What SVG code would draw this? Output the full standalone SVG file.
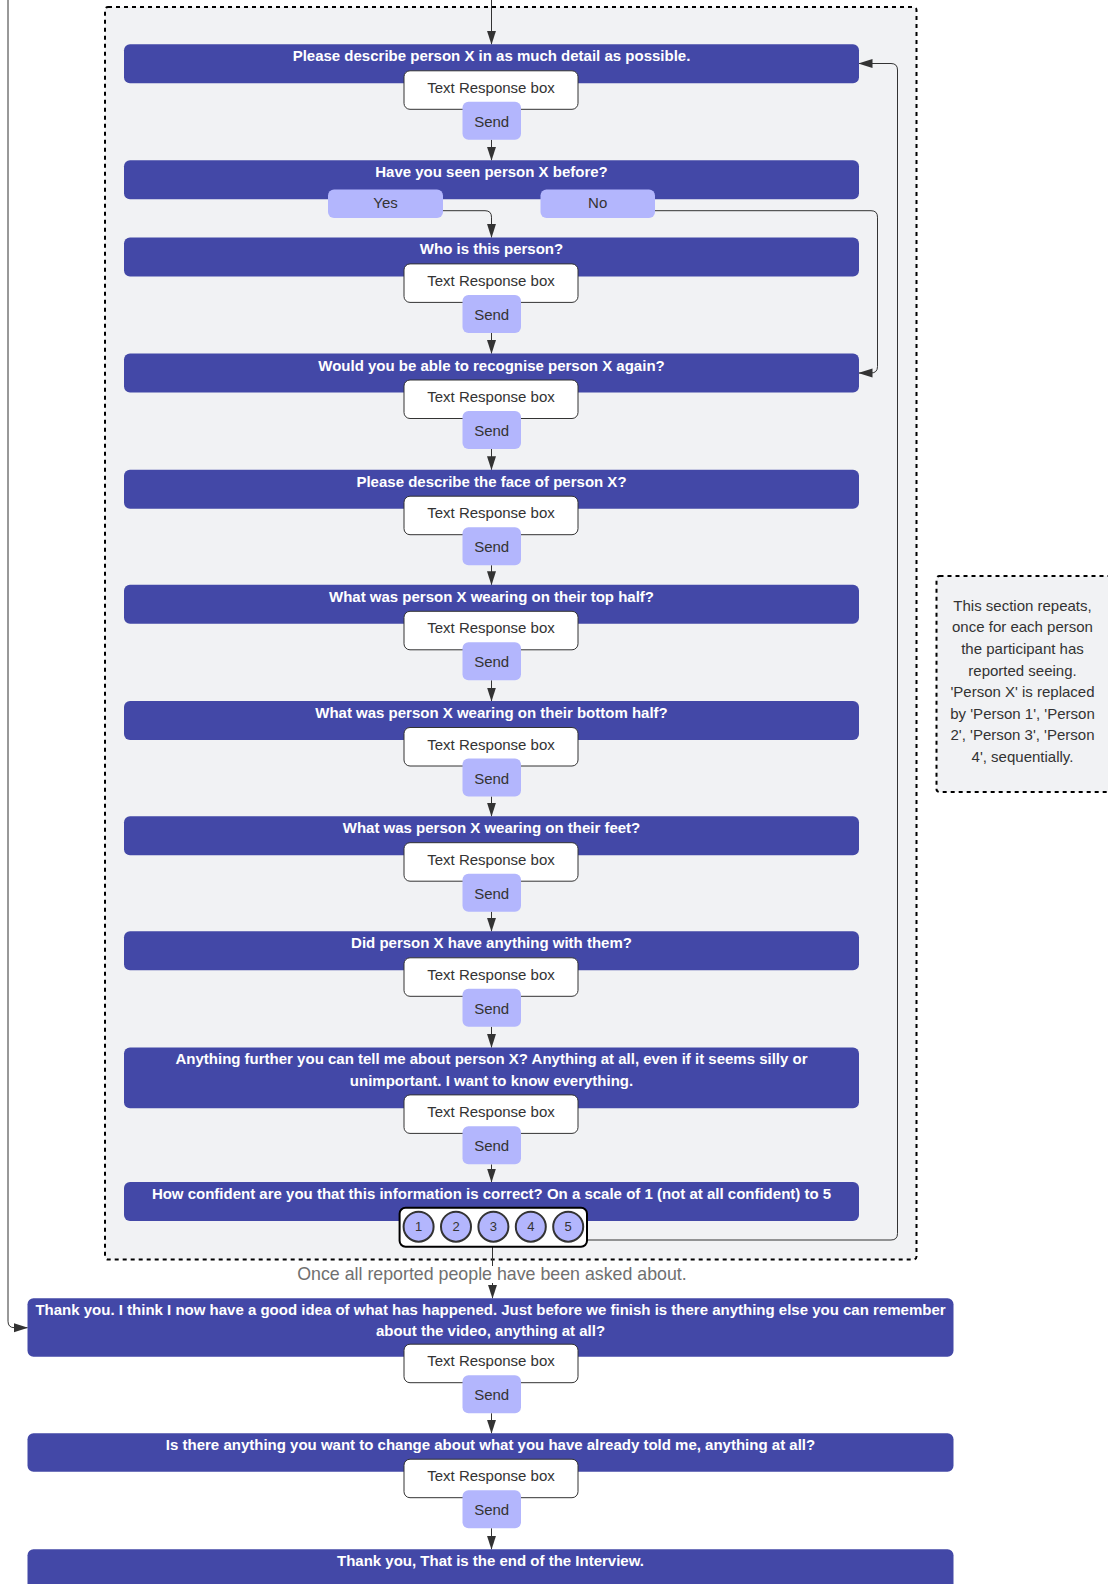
<svg xmlns="http://www.w3.org/2000/svg" width="1108" height="1584" viewBox="0 0 1108 1584">
<defs>
<style>
.q{fill:#4348a7}
.qt{font-family:"Liberation Sans",Arial,sans-serif;font-weight:bold;font-size:15px;fill:#ffffff;text-anchor:middle}
.tr{fill:#ffffff;stroke:#333333;stroke-width:1}
.snd{fill:#b3b6fd}
.lt{font-family:"Liberation Sans",Arial,sans-serif;font-size:15px;fill:#333333;text-anchor:middle}
.num{font-family:"Liberation Sans",Arial,sans-serif;font-size:13px;fill:#333333;text-anchor:middle}
.con{fill:none;stroke:#333333;stroke-width:1}
.dash{fill:#f1f2f4;stroke:#000000;stroke-width:2;stroke-dasharray:4 4}
.circ{fill:#b3b6fd;stroke:#333333;stroke-width:2}
</style>
<marker id="ah" viewBox="0 0 14 10" refX="13.5" refY="5" markerWidth="14" markerHeight="10" markerUnits="userSpaceOnUse" orient="auto">
<path d="M0,0.5 L14,5 L0,9.5 Z" fill="#333333"/>
</marker>
</defs>

<g id="repeat-section">
<rect class="dash" x="105" y="7" width="811.5" height="1252.5" rx="3"/>
</g>

<g id="note">
<rect class="dash" x="936.5" y="576" width="180" height="216" rx="3"/>
<text class="lt" x="1022.5" y="610.8">This section repeats,</text>
<text class="lt" x="1022.5" y="632.3">once for each person</text>
<text class="lt" x="1022.5" y="653.9">the participant has</text>
<text class="lt" x="1022.5" y="675.5">reported seeing.</text>
<text class="lt" x="1022.5" y="697.1">'Person X' is replaced</text>
<text class="lt" x="1022.5" y="718.7">by 'Person 1', 'Person</text>
<text class="lt" x="1022.5" y="740.3">2', 'Person 3', 'Person</text>
<text class="lt" x="1022.5" y="761.9">4', sequentially.</text>
</g>

<g id="connectors">
<path class="con" marker-end="url(#ah)" d="M491.5,0 V44.3"/>
<path class="con" marker-end="url(#ah)" d="M491.5,139.8 V160.3"/>
<path class="con" marker-end="url(#ah)" d="M443,210.7 H485 Q491.5,210.7 491.5,217.2 V237.4"/>
<path class="con" marker-end="url(#ah)" d="M655,210.7 H871 Q877.5,210.7 877.5,217.2 V366.5 Q877.5,373 871,373 H859"/>
<path class="con" marker-end="url(#ah)" d="M491.5,332.9 V353.5"/>
<path class="con" marker-end="url(#ah)" d="M491.5,449 V469.7"/>
<path class="con" marker-end="url(#ah)" d="M491.5,565.2 V584.8"/>
<path class="con" marker-end="url(#ah)" d="M491.5,680.3 V701"/>
<path class="con" marker-end="url(#ah)" d="M491.5,796.5 V816.2"/>
<path class="con" marker-end="url(#ah)" d="M491.5,911.7 V931.3"/>
<path class="con" marker-end="url(#ah)" d="M491.5,1026.8 V1047.4"/>
<path class="con" marker-end="url(#ah)" d="M491.5,1164.4 V1182"/>
<path class="con" marker-end="url(#ah)" d="M587,1240 H891 Q897.5,1240 897.5,1233.5 V70 Q897.5,63.5 891,63.5 H859"/>
<path class="con" d="M492.5,1246.7 V1266"/>
<path class="con" marker-end="url(#ah)" d="M492.5,1283 V1298.3"/>
<path class="con" marker-end="url(#ah)" d="M8,0 V1321.2 Q8,1327.7 14.5,1327.7 H27.5"/>
<path class="con" marker-end="url(#ah)" d="M491.5,1413.2 V1433.3"/>
<path class="con" marker-end="url(#ah)" d="M491.5,1528.2 V1549.3"/>
<text x="492" y="1279.5" font-family="Liberation Sans, Arial, sans-serif" font-size="17.8" fill="#707070" text-anchor="middle">Once all reported people have been asked about.</text>
</g>

<g id="q1">
<rect class="q" x="124" y="44.3" width="735" height="39" rx="6"/>
<text class="qt" x="491.5" y="61.3">Please describe person X in as much detail as possible.</text>
<rect class="tr" x="404" y="70.8" width="174" height="38.5" rx="6"/>
<text class="lt" x="491" y="92.8">Text Response box</text>
<rect class="snd" x="462.5" y="101.8" width="58.5" height="38" rx="6"/>
<text class="lt" x="491.7" y="126.8">Send</text>
</g>

<g id="q2">
<rect class="q" x="124" y="160.3" width="735" height="39" rx="6"/>
<text class="qt" x="491.5" y="177.3">Have you seen person X before?</text>
<rect class="snd" x="328" y="189.5" width="115" height="28.5" rx="6"/>
<text class="lt" x="385.5" y="208.3">Yes</text>
<rect class="snd" x="540.5" y="189.5" width="114.5" height="28.5" rx="6"/>
<text class="lt" x="597.7" y="208.3">No</text>
</g>

<g id="q3">
<rect class="q" x="124" y="237.4" width="735" height="39" rx="6"/>
<text class="qt" x="491.5" y="254.4">Who is this person?</text>
<rect class="tr" x="404" y="263.9" width="174" height="38.5" rx="6"/>
<text class="lt" x="491" y="285.9">Text Response box</text>
<rect class="snd" x="462.5" y="294.9" width="58.5" height="38" rx="6"/>
<text class="lt" x="491.7" y="319.9">Send</text>
</g>

<g id="q4">
<rect class="q" x="124" y="353.5" width="735" height="39" rx="6"/>
<text class="qt" x="491.5" y="370.5">Would you be able to recognise person X again?</text>
<rect class="tr" x="404" y="380" width="174" height="38.5" rx="6"/>
<text class="lt" x="491" y="402">Text Response box</text>
<rect class="snd" x="462.5" y="411" width="58.5" height="38" rx="6"/>
<text class="lt" x="491.7" y="436">Send</text>
</g>

<g id="q5">
<rect class="q" x="124" y="469.7" width="735" height="39" rx="6"/>
<text class="qt" x="491.5" y="486.7">Please describe the face of person X?</text>
<rect class="tr" x="404" y="496.2" width="174" height="38.5" rx="6"/>
<text class="lt" x="491" y="518.2">Text Response box</text>
<rect class="snd" x="462.5" y="527.2" width="58.5" height="38" rx="6"/>
<text class="lt" x="491.7" y="552.2">Send</text>
</g>

<g id="q6">
<rect class="q" x="124" y="584.8" width="735" height="39" rx="6"/>
<text class="qt" x="491.5" y="601.8">What was person X wearing on their top half?</text>
<rect class="tr" x="404" y="611.3" width="174" height="38.5" rx="6"/>
<text class="lt" x="491" y="633.3">Text Response box</text>
<rect class="snd" x="462.5" y="642.3" width="58.5" height="38" rx="6"/>
<text class="lt" x="491.7" y="667.3">Send</text>
</g>

<g id="q7">
<rect class="q" x="124" y="701" width="735" height="39" rx="6"/>
<text class="qt" x="491.5" y="718">What was person X wearing on their bottom half?</text>
<rect class="tr" x="404" y="727.5" width="174" height="38.5" rx="6"/>
<text class="lt" x="491" y="749.5">Text Response box</text>
<rect class="snd" x="462.5" y="758.5" width="58.5" height="38" rx="6"/>
<text class="lt" x="491.7" y="783.5">Send</text>
</g>

<g id="q8">
<rect class="q" x="124" y="816.2" width="735" height="39" rx="6"/>
<text class="qt" x="491.5" y="833.2">What was person X wearing on their feet?</text>
<rect class="tr" x="404" y="842.7" width="174" height="38.5" rx="6"/>
<text class="lt" x="491" y="864.7">Text Response box</text>
<rect class="snd" x="462.5" y="873.7" width="58.5" height="38" rx="6"/>
<text class="lt" x="491.7" y="898.7">Send</text>
</g>

<g id="q9">
<rect class="q" x="124" y="931.3" width="735" height="39" rx="6"/>
<text class="qt" x="491.5" y="948.3">Did person X have anything with them?</text>
<rect class="tr" x="404" y="957.8" width="174" height="38.5" rx="6"/>
<text class="lt" x="491" y="979.8">Text Response box</text>
<rect class="snd" x="462.5" y="988.8" width="58.5" height="38" rx="6"/>
<text class="lt" x="491.7" y="1013.8">Send</text>
</g>

<g id="q10">
<rect class="q" x="124" y="1047.4" width="735" height="60.9" rx="6"/>
<text class="qt" x="491.5" y="1064.4">Anything further you can tell me about person X? Anything at all, even if it seems silly or</text>
<text class="qt" x="491.5" y="1086.2">unimportant. I want to know everything.</text>
<rect class="tr" x="404" y="1094.9" width="174" height="38.5" rx="6"/>
<text class="lt" x="491" y="1116.9">Text Response box</text>
<rect class="snd" x="462.5" y="1126.2" width="58.5" height="38" rx="6"/>
<text class="lt" x="491.7" y="1151.2">Send</text>
</g>

<g id="q11">
<rect class="q" x="124" y="1182" width="735" height="39" rx="6"/>
<text class="qt" x="491.5" y="1199">How confident are you that this information is correct? On a scale of 1 (not at all confident) to 5</text>
<rect x="399.6" y="1207.7" width="187.4" height="39" rx="6" fill="#ffffff" stroke="#000000" stroke-width="2"/>
<circle class="circ" cx="418.6" cy="1226.7" r="15"/>
<text class="num" x="418.6" y="1231">1</text>
<circle class="circ" cx="456" cy="1226.7" r="15"/>
<text class="num" x="456" y="1231">2</text>
<circle class="circ" cx="493.4" cy="1226.7" r="15"/>
<text class="num" x="493.4" y="1231">3</text>
<circle class="circ" cx="530.8" cy="1226.7" r="15"/>
<text class="num" x="530.8" y="1231">4</text>
<circle class="circ" cx="568.2" cy="1226.7" r="15"/>
<text class="num" x="568.2" y="1231">5</text>
</g>

<g id="q12">
<rect class="q" x="27.5" y="1298.3" width="926" height="58.4" rx="6"/>
<text class="qt" x="490.5" y="1314.6">Thank you. I think I now have a good idea of what has happened. Just before we finish is there anything else you can remember</text>
<text class="qt" x="490.5" y="1336.3">about the video, anything at all?</text>
<rect class="tr" x="404" y="1344.2" width="174" height="38.5" rx="6"/>
<text class="lt" x="491" y="1366.2">Text Response box</text>
<rect class="snd" x="462.5" y="1375.2" width="58.5" height="38" rx="6"/>
<text class="lt" x="491.7" y="1400.2">Send</text>
</g>

<g id="q13">
<rect class="q" x="27.5" y="1433.3" width="926" height="38.4" rx="6"/>
<text class="qt" x="490.5" y="1449.7">Is there anything you want to change about what you have already told me, anything at all?</text>
<rect class="tr" x="404" y="1459.2" width="174" height="38.5" rx="6"/>
<text class="lt" x="491" y="1481.2">Text Response box</text>
<rect class="snd" x="462.5" y="1490.2" width="58.5" height="38" rx="6"/>
<text class="lt" x="491.7" y="1515.2">Send</text>
</g>

<g id="q14">
<rect class="q" x="27.5" y="1549.3" width="926" height="50" rx="6"/>
<text class="qt" x="490.5" y="1565.5">Thank you, That is the end of the Interview.</text>
</g>
</svg>
